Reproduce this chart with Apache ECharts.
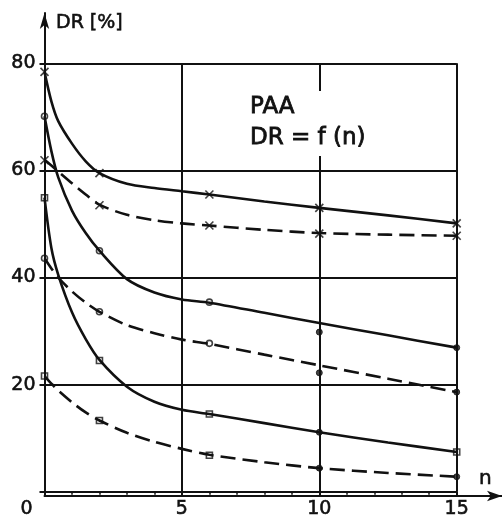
<!DOCTYPE html>
<html>
<head>
<meta charset="utf-8">
<script src="https://cdn.jsdelivr.net/npm/echarts@6/dist/echarts.min.js"></script>
<style>
html,body{margin:0;padding:0;background:#fff;}
#c{width:502px;height:519px;}
</style>
</head>
<body>
<div id="c"></div>
<script>
// Curve sample positions (n) and curve values
const curveN = [0, 0.25, 0.5, 1, 1.5, 2, 3, 4, 5, 6, 8, 10, 12.5, 15];
const curveSolidX  = [78.4, 72.9, 69.2, 65.0, 61.7, 59.5, 57.5, 56.7, 56.1, 55.5, 54.2, 53.0, 51.6, 50.1];
const curveDashX   = [62.0, 60.9, 59.8, 57.6, 55.5, 53.6, 51.7, 50.7, 50.1, 49.7, 48.9, 48.3, 48.0, 47.8];
const curveSolidO  = [70.1, 63.6, 58.7, 52.5, 48.3, 45.0, 39.7, 37.2, 35.9, 35.3, 33.4, 31.5, 29.2, 26.9];
const curveDashO   = [43.6, 41.7, 40.0, 37.4, 35.3, 33.6, 31.1, 29.6, 28.4, 27.6, 25.6, 23.6, 21.1, 18.6];
const curveSolidSq = [54.9, 45.5, 40.5, 33.5, 28.5, 24.6, 19.6, 16.8, 15.3, 14.5, 12.8, 11.1, 9.2, 7.4];
const curveDashSq  = [21.6, 20.2, 18.9, 16.7, 14.8, 13.3, 11.0, 9.3, 8.0, 6.9, 5.5, 4.4, 3.5, 2.8];

// Measured points (markers)
const markN = [0, 2, 6, 10, 15];
const markSolidX  = [78.4, 59.5, 55.5, 53.0, 50.1];
const markDashX   = [61.9, 53.5, 49.7, 48.2, 47.8];
const markSolidO  = [70.1, 45.0, 35.4, 29.8, 26.9];
const markDashO   = [43.6, 33.6, 27.7, 22.2, 18.6];
const markSolidSq = [54.9, 24.5, 14.5, 11.1, 7.4];
const markDashSq  = [21.6, 13.3, 6.8, 4.4, 2.8];

// Axis ticks
const xTicks = [0, 5, 10, 15];
const yTicks = [0, 20, 40, 60, 80];

const INK = '#111';
const FONT = 'DejaVu Sans';
const CROSS = 'path://M0,0L10,10M10,0L0,10';
const TXT = { fontFamily: FONT, fontWeight: 'normal', color: INK, textBorderColor: INK, textBorderWidth: 0.6 };

function pairs(xs, ys) { return xs.map((x, i) => [x, ys[i]]); }

function curve(vals, dashed) {
  return {
    type: 'line', xAxisIndex: 0, yAxisIndex: 0,
    data: pairs(curveN, vals), smooth: 0.3, showSymbol: false, silent: true,
    lineStyle: { color: INK, width: 2.6, type: dashed ? [15, 7] : 'solid', cap: 'butt' },
    z: 3
  };
}
function marks(vals, symbol, filledIdx) {
  return {
    type: 'scatter', xAxisIndex: 0, yAxisIndex: 0, symbol: symbol, symbolSize: symbol === CROSS ? 8 : 6,
    data: markN.map((x, i) => {
      const filled = filledIdx.indexOf(i) >= 0;
      return {
        value: [x, vals[i]],
        symbol: filled ? 'circle' : symbol,
        itemStyle: filled ? { color: INK, borderColor: INK, borderWidth: 1 }
                          : { color: 'none', borderColor: INK, borderWidth: 1.6 }
      };
    }),
    z: 4, silent: true
  };
}

const chart = echarts.init(document.getElementById('c'));
chart.setOption({
  backgroundColor: '#fff',
  animation: false,
  title: [
    { text: 'DR [%]', left: 56, top: 13, padding: 0,
      textStyle: Object.assign({}, TXT, { fontSize: 19, lineHeight: 20 }) },
    { text: 'PAA\nDR = f (n)', left: 248, top: 91, padding: [1, 4, 2, 2], backgroundColor: '#fff', z: 5,
      textStyle: Object.assign({}, TXT, { fontSize: 23, lineHeight: 31, textBorderWidth: 0.8 }) },
    { text: 'n', left: 479, top: 469, padding: 0,
      textStyle: Object.assign({}, TXT, { fontSize: 20, lineHeight: 20 }) }
  ],
  grid: [
    { left: 44.5, right: 45.3, top: 63.3, bottom: 23 },
    { left: 44.5, right: 0, top: 13, bottom: 23 }
  ],
  xAxis: [
    { type: 'value', gridIndex: 0, min: xTicks[0], max: xTicks[xTicks.length - 1], interval: 5,
      axisLine: { show: true, lineStyle: { color: INK, width: 2 } },
      axisTick: { show: true, length: 4, lineStyle: { color: INK, width: 2 } },
      minorTick: { show: true, splitNumber: 5, length: 3, lineStyle: { color: INK, width: 1.5 } },
      splitLine: { show: true, lineStyle: { color: INK, width: 2 } },
      axisLabel: Object.assign({}, TXT, { fontSize: 19, margin: 8,
        formatter: v => v === 0 ? '{z|0}' : String(v),
        rich: { z: Object.assign({}, TXT, { fontSize: 19, padding: [0, 36, 0, 0] }) } }) },
    { type: 'value', gridIndex: 1, min: 0, max: 1,
      axisLine: { show: true, symbol: ['none', 'arrow'], symbolSize: [8, 15], lineStyle: { color: INK, width: 2 } },
      axisTick: { show: false }, axisLabel: { show: false }, splitLine: { show: false } }
  ],
  yAxis: [
    { type: 'value', gridIndex: 0, min: yTicks[0], max: yTicks[yTicks.length - 1], interval: 20,
      axisLine: { show: true, lineStyle: { color: INK, width: 2 } },
      axisTick: { show: true, length: 5, lineStyle: { color: INK, width: 2 } },
      splitLine: { show: true, lineStyle: { color: INK, width: 2 } },
      axisLabel: Object.assign({}, TXT, { fontSize: 19, margin: 9,
        formatter: v => v === 0 ? '' : String(v) }) },
    { type: 'value', gridIndex: 1, min: 0, max: 1,
      axisLine: { show: true, symbol: ['none', 'arrow'], symbolSize: [7, 16], lineStyle: { color: INK, width: 2 } },
      axisTick: { show: false }, axisLabel: { show: false }, splitLine: { show: false } }
  ],
  series: [
    curve(curveSolidX, false),
    curve(curveDashX, true),
    curve(curveSolidO, false),
    curve(curveDashO, true),
    curve(curveSolidSq, false),
    curve(curveDashSq, true),
    marks(markSolidX, CROSS, []),
    marks(markDashX, CROSS, []),
    marks(markSolidO, 'circle', [3, 4]),
    marks(markDashO, 'circle', [3, 4]),
    marks(markSolidSq, 'rect', [3]),
    marks(markDashSq, 'rect', [3, 4])
  ]
});
</script>
</body>
</html>
